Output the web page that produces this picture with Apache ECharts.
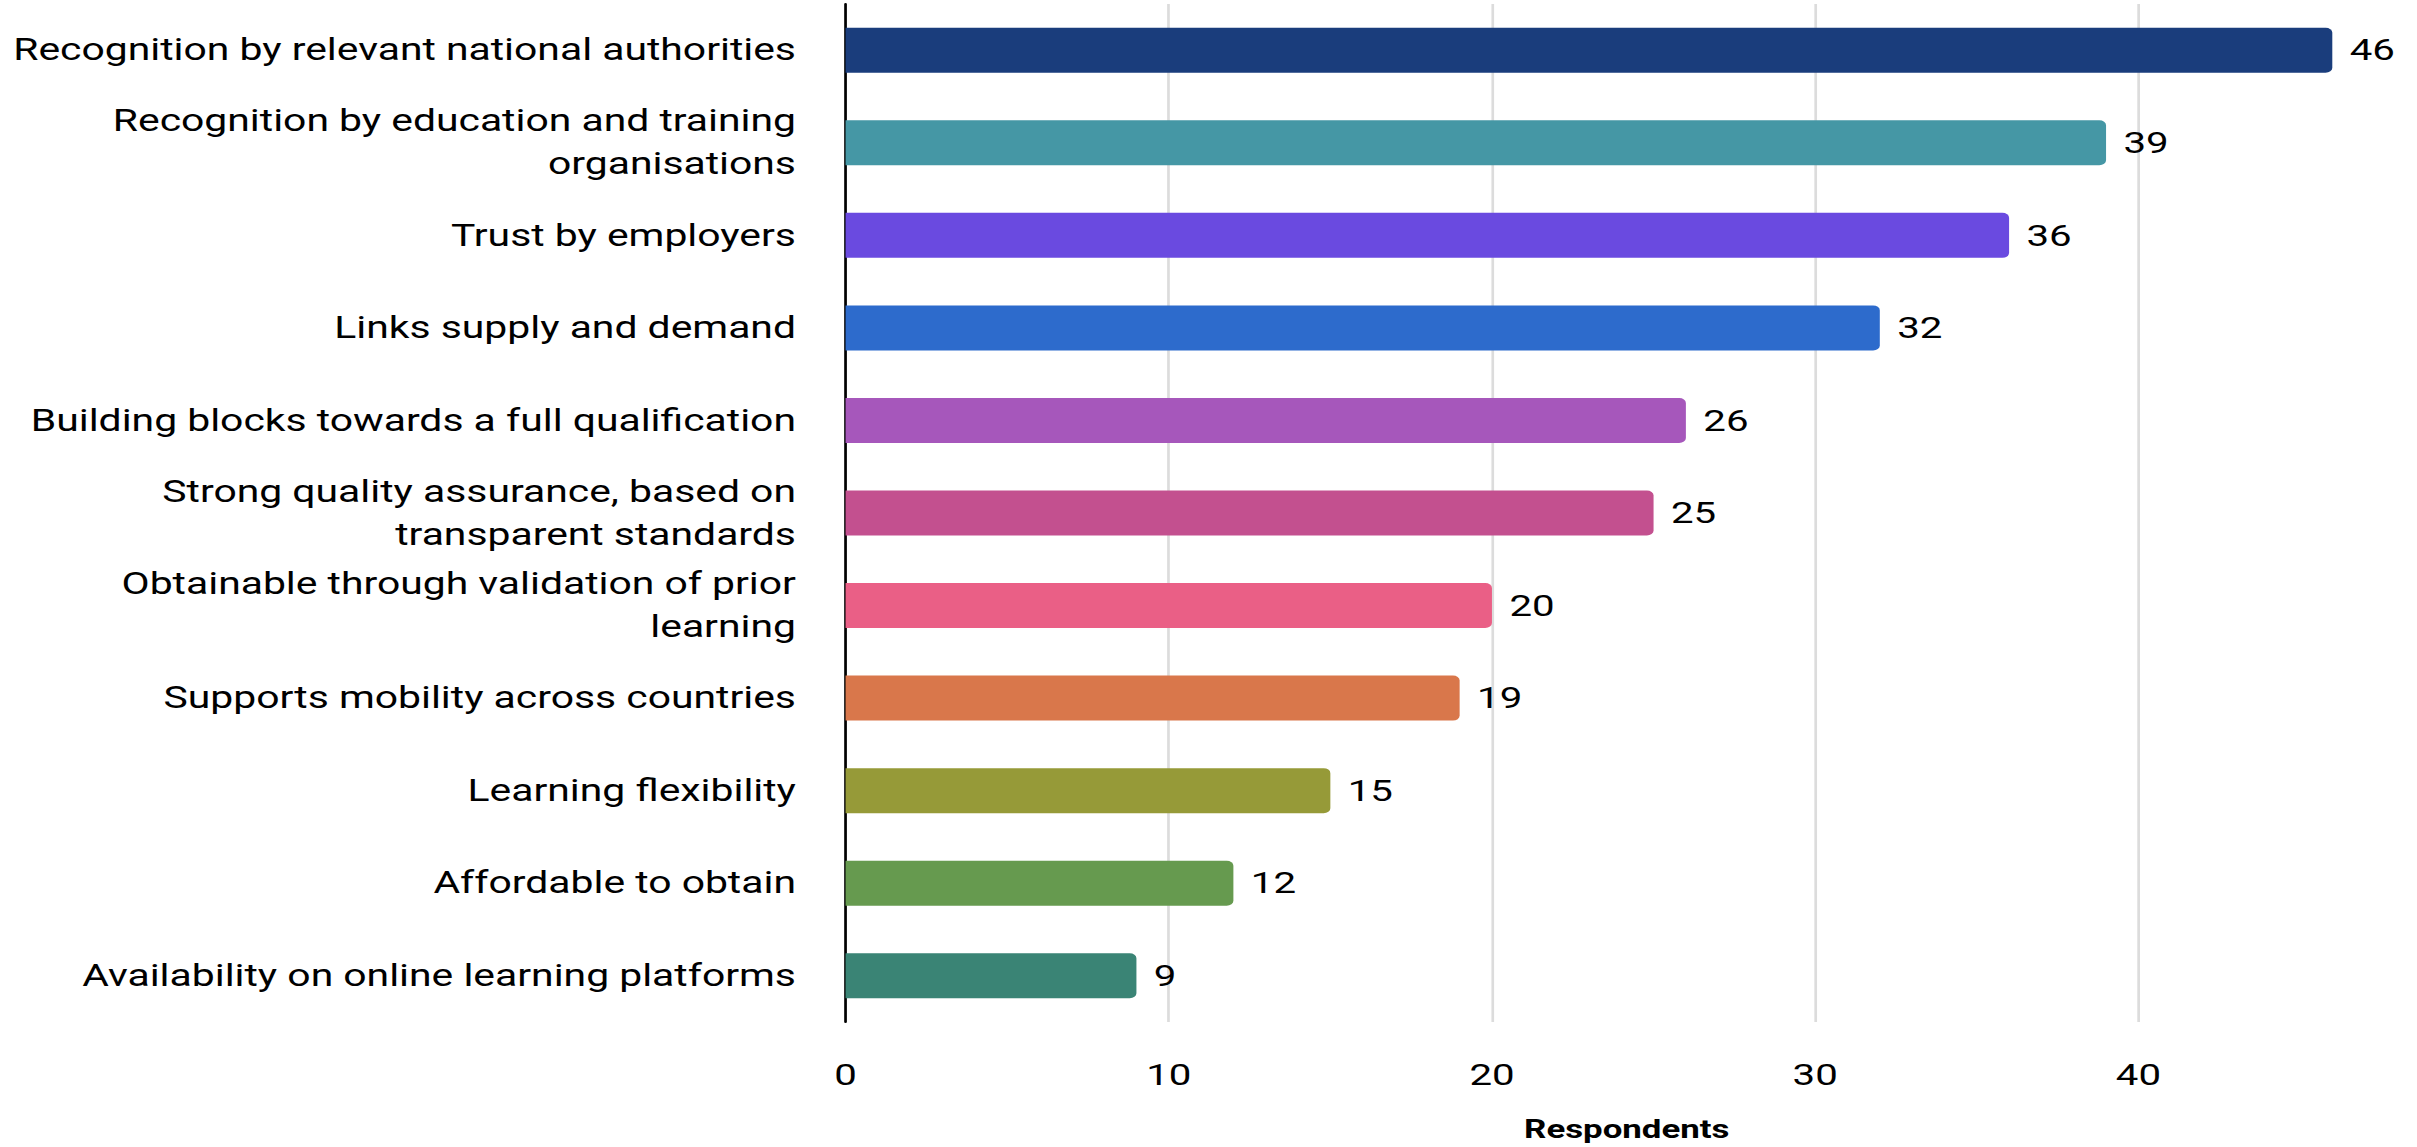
<!DOCTYPE html>
<html>
<head>
<meta charset="utf-8">
<style>
  html, body { margin: 0; padding: 0; background: #ffffff; overflow: hidden; }
  #wrap { width: 2417px; height: 1147px; overflow: hidden; position: relative; }
  /* the chart is laid out narrower and widened to the page, giving the wide lettering */
  #chart { width: 1840px; height: 1147px; transform: scaleX(1.34); transform-origin: 0 0; }
</style>
<script src="https://cdn.jsdelivr.net/npm/echarts@6/dist/echarts.min.js"></script>
</head>
<body>
<div id="wrap"><div id="chart"></div></div>
<script>
// Features ranked by number of respondents
const categories = [
  'Recognition by relevant national authorities',
  'Recognition by education and training\norganisations',
  'Trust by employers',
  'Links supply and demand',
  'Building blocks towards a full qualification',
  'Strong quality assurance, based on\ntransparent standards',
  'Obtainable through validation of prior\nlearning',
  'Supports mobility across countries',
  'Learning flexibility',
  'Affordable to obtain',
  'Availability on online learning platforms'
];
const respondents = [46, 39, 36, 32, 26, 25, 20, 19, 15, 12, 9];
const barColors = [
  '#1a3d7c', '#4597a5', '#6a4ae0', '#2d6bcc', '#a657bb', '#c3508f',
  '#ea5f86', '#d9774b', '#969a38', '#669a4f', '#3a8475'
];
const xTicks = [0, 10, 20, 30, 40];

const chart = echarts.init(document.getElementById('chart'), null, { renderer: 'svg' });
const font = 'Roboto, "Noto Sans", sans-serif';

chart.setOption({
  animation: false,
  grid: { left: 631, right: 3, top: 4, bottom: 111, containLabel: false },
  xAxis: {
    type: 'value',
    min: 0,
    max: 50,
    interval: 10,
    name: 'Respondents',
    nameLocation: 'middle',
    nameGap: 94,
    nameTextStyle: {
      fontFamily: font, fontSize: 26, fontWeight: 'bold', color: '#000',
      padding: [0, 40, 0, 0]
    },
    axisLine: { show: false },
    axisTick: { show: false },
    axisLabel: {
      fontFamily: font, fontSize: 30, color: '#000', margin: 38,
      formatter: v => (xTicks.indexOf(v) >= 0 ? String(v) : '')
    },
    splitLine: { show: true, lineStyle: { color: '#dcdcdc', width: 2 } }
  },
  yAxis: {
    type: 'category',
    data: categories,
    inverse: true,
    axisLine: { show: true, lineStyle: { color: '#000', width: 2 } },
    axisTick: { show: false },
    axisLabel: {
      fontFamily: font, fontSize: 30.5, color: '#000', margin: 37,
      align: 'right', lineHeight: 43
    }
  },
  series: [{
    type: 'bar',
    data: respondents.map((v, i) => ({ value: v, itemStyle: { color: barColors[i] } })),
    barWidth: 45,
    itemStyle: { borderRadius: [0, 5, 5, 0] },
    label: {
      show: true, position: 'right', distance: 13,
      fontFamily: font, fontSize: 30, color: '#000'
    }
  }]
});
</script>
</body>
</html>
